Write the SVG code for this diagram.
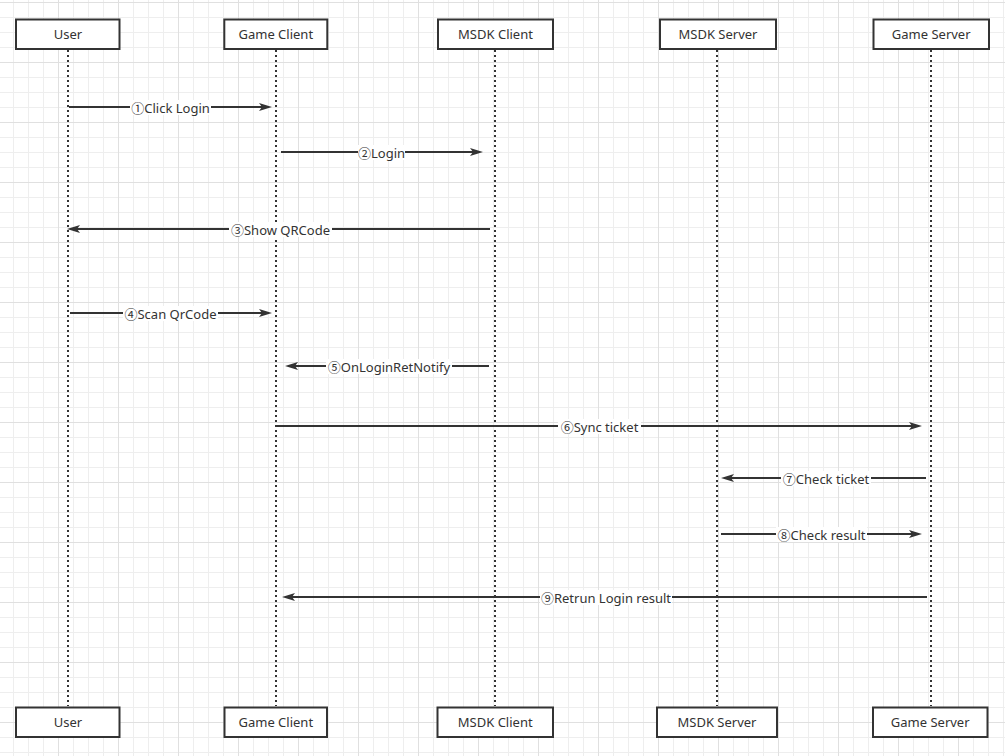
<svg xmlns="http://www.w3.org/2000/svg" width="1005" height="756" viewBox="0 0 1005 756">
<style>
.box{fill:#fff;stroke:#333;stroke-width:2}
.bt{font-family:"Noto Sans","Noto Sans CJK SC",sans-serif;font-size:13px;fill:#333;text-anchor:middle}
.life{stroke:#333;stroke-width:2;stroke-dasharray:2 3;fill:none}
.msg{stroke:#333;stroke-width:2;fill:none}
.lbg{fill:#fff}
.lt{font-family:"Noto Sans","Noto Sans CJK SC",sans-serif;font-size:13px;fill:#333;text-anchor:middle}
</style>
<defs>
<pattern id="grid" patternUnits="userSpaceOnUse" x="58" y="2" width="60" height="60">
<path d="M15.5 0V60M30.5 0V60M45.5 0V60M0 15.5H60M0 30.5H60M0 45.5H60" stroke="#eeeeee" stroke-width="1" fill="none"/>
<path d="M0.5 0V60M0 0.5H60" stroke="#e0e0e0" stroke-width="1" fill="none"/>
</pattern>
<marker id="arr" markerUnits="userSpaceOnUse" markerWidth="13" markerHeight="8" refX="3" refY="4" orient="auto" viewBox="0 0 13 8">
<path d="M0,0 L13,4 L0,8 L3,4 Z" fill="#333"/>
</marker>
</defs>
<rect width="1005" height="756" fill="#fff"/>
<rect width="1005" height="756" fill="url(#grid)"/>

<g id="lifelines">
<line class="life" x1="68" y1="50" x2="68" y2="706"/>
<line class="life" x1="276" y1="50" x2="276" y2="706"/>
<line class="life" x1="495" y1="50" x2="495" y2="706"/>
<line class="life" x1="717" y1="50" x2="717" y2="706"/>
<line class="life" x1="931" y1="50" x2="931" y2="706"/>
</g>

<g id="connectors">
<line class="msg" x1="69" y1="107" x2="262" y2="107" marker-end="url(#arr)"/>
<line class="msg" x1="281" y1="152" x2="473" y2="152" marker-end="url(#arr)"/>
<line class="msg" x1="490" y1="229" x2="77" y2="229" marker-end="url(#arr)"/>
<line class="msg" x1="70" y1="313" x2="262" y2="313" marker-end="url(#arr)"/>
<line class="msg" x1="489" y1="366" x2="295" y2="366" marker-end="url(#arr)"/>
<line class="msg" x1="276" y1="426" x2="912" y2="426" marker-end="url(#arr)"/>
<line class="msg" x1="926" y1="478" x2="731" y2="478" marker-end="url(#arr)"/>
<line class="msg" x1="721" y1="534" x2="912" y2="534" marker-end="url(#arr)"/>
<line class="msg" x1="927" y1="597" x2="292" y2="597" marker-end="url(#arr)"/>

<rect class="lbg" x="130" y="100" width="81" height="15"/>
<text class="lt" x="170.5" y="113">①Click Login</text>
<rect class="lbg" x="358" y="145" width="47" height="15"/>
<text class="lt" x="381.5" y="158">②Login</text>
<rect class="lbg" x="229" y="222" width="103" height="15"/>
<text class="lt" x="280.5" y="235">③Show QRCode</text>
<rect class="lbg" x="123" y="306" width="95" height="15"/>
<text class="lt" x="170.5" y="319">④Scan QrCode</text>
<rect class="lbg" x="326" y="359" width="126" height="15"/>
<text class="lt" x="389" y="372">⑤OnLoginRetNotify</text>
<rect class="lbg" x="558" y="419" width="83" height="15"/>
<text class="lt" x="599.5" y="432">⑥Sync ticket</text>
<rect class="lbg" x="781" y="471" width="90" height="15"/>
<text class="lt" x="826" y="484">⑦Check ticket</text>
<rect class="lbg" x="776" y="527" width="91" height="15"/>
<text class="lt" x="821.5" y="540">⑧Check result</text>
<rect class="lbg" x="540" y="590" width="132" height="15"/>
<text class="lt" x="606" y="603">⑨Retrun Login result</text>
</g>

<g id="user-top"><rect class="box" x="16" y="19.5" width="103.5" height="29.5"/><text class="bt" x="68" y="39">User</text></g>
<g id="gameclient-top"><rect class="box" x="224.3" y="19.5" width="103" height="29.5"/><text class="bt" x="275.8" y="39">Game Client</text></g>
<g id="msdkclient-top"><rect class="box" x="438" y="19.5" width="115" height="29.5"/><text class="bt" x="495.5" y="39">MSDK Client</text></g>
<g id="msdkserver-top"><rect class="box" x="660" y="19.5" width="116" height="29.5"/><text class="bt" x="718" y="39">MSDK Server</text></g>
<g id="gameserver-top"><rect class="box" x="873.5" y="19.5" width="115.5" height="29.5"/><text class="bt" x="931.2" y="39">Game Server</text></g>

<g id="user-bottom"><rect class="box" x="16" y="707.5" width="103.5" height="29.5"/><text class="bt" x="68" y="727">User</text></g>
<g id="gameclient-bottom"><rect class="box" x="224.5" y="707.5" width="102.5" height="29.5"/><text class="bt" x="275.8" y="727">Game Client</text></g>
<g id="msdkclient-bottom"><rect class="box" x="437.5" y="707.5" width="115.5" height="29.5"/><text class="bt" x="495.2" y="727">MSDK Client</text></g>
<g id="msdkserver-bottom"><rect class="box" x="657" y="707.5" width="120" height="29.5"/><text class="bt" x="717" y="727">MSDK Server</text></g>
<g id="gameserver-bottom"><rect class="box" x="873" y="707.5" width="114.5" height="29.5"/><text class="bt" x="930.2" y="727">Game Server</text></g>
</svg>
